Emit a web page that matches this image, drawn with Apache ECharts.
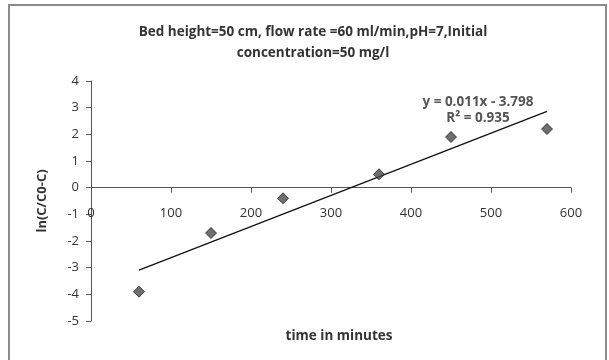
<!DOCTYPE html>
<html>
<head>
<meta charset="utf-8">
<script src="https://cdn.jsdelivr.net/npm/echarts@6/dist/echarts.min.js"></script>
<style>
  html, body { margin: 0; padding: 0; background: #fff; }
  #chart { width: 609px; height: 360px; }
</style>
</head>
<body>
<div id="chart"></div>
<script>
// data
const timeMin = [60, 150, 240, 360, 450, 570];
const lnValues = [-3.9, -1.7, -0.4, 0.5, 1.9, 2.2];
const titleLines = ['Bed height=50 cm, flow rate =60 ml/min,pH=7,Initial', 'concentration=50 mg/l'];
const eqLines = ['y = 0.011x - 3.798', 'R\u00b2 = 0.935'];
const yMin = -5, yMax = 4;

// least squares trend line over the points
function fitLine(xs, ys) {
  const n = xs.length;
  const mx = xs.reduce((a, b) => a + b, 0) / n;
  const my = ys.reduce((a, b) => a + b, 0) / n;
  let sxy = 0, sxx = 0;
  for (let i = 0; i < n; i++) {
    sxy += (xs[i] - mx) * (ys[i] - my);
    sxx += (xs[i] - mx) * (xs[i] - mx);
  }
  const k = sxy / sxx;
  return { k: k, b: my - k * mx };
}
const fit = fitLine(timeMin, lnValues);
const x0 = timeMin[0], x1 = timeMin[timeMin.length - 1];
const trend = [[x0, fit.k * x0 + fit.b], [x1, fit.k * x1 + fit.b]];

const gridTop = 81, gridBottom = 39;
const plotH = 360 - gridTop - gridBottom;
// move the x axis (with its labels) up to y = 0
const xOffset = -plotH * (0 - yMin) / (yMax - yMin);

const font = 'Open Sans, sans-serif';
const myChart = echarts.init(document.getElementById('chart'));
myChart.setOption({
  animation: false,
  backgroundColor: '#fff',
  title: [
    {
      text: titleLines.join('\n'),
      left: 308,
      top: 17,
      textAlign: 'center',
      textStyle: { fontFamily: font, fontSize: 13.5, fontWeight: 'bold', color: '#333', lineHeight: 21 },
    },
    {
      text: 'time in minutes',
      left: 334,
      top: 324,
      textAlign: 'center',
      textStyle: { fontFamily: font, fontSize: 13.5, fontWeight: 'bold', color: '#333' },
    },
  ],
  graphic: [
    {
      type: 'rect',
      z: -10,
      shape: { x: 9, y: 5, width: 597, height: 400 },
      style: { fill: 'none', stroke: '#8c8c8c', lineWidth: 2 },
    },
    {
      type: 'text',
      x: 478,
      y: 94,
      style: {
        text: eqLines.join('\n'),
        fontFamily: font,
        fontSize: 13.5,
        fontWeight: 'bold',
        fill: '#555',
        align: 'center',
        lineHeight: 16,
      },
    },
  ],
  grid: { left: 91, right: 38, top: gridTop, bottom: gridBottom },
  xAxis: {
    type: 'value',
    min: 0,
    max: 600,
    interval: 100,
    offset: xOffset,
    axisLine: { onZero: false, lineStyle: { color: '#555', width: 1 } },
    axisTick: { show: true, length: 5, lineStyle: { color: '#555' } },
    axisLabel: { margin: 19, fontFamily: font, fontSize: 13, color: '#333' },
    splitLine: { show: false },
  },
  yAxis: {
    type: 'value',
    min: yMin,
    max: yMax,
    interval: 1,
    name: 'ln(C/C0-C)',
    nameLocation: 'middle',
    nameGap: 42,
    nameTextStyle: { fontFamily: font, fontSize: 13, fontWeight: 'bold', color: '#333' },
    axisLine: { show: true, onZero: false, lineStyle: { color: '#555', width: 1 } },
    axisTick: { show: true, length: 5, lineStyle: { color: '#555' } },
    axisLabel: { margin: 12, fontFamily: font, fontSize: 13, color: '#333' },
    splitLine: { show: false },
  },
  series: [
    {
      type: 'line',
      data: trend,
      showSymbol: false,
      lineStyle: { color: '#111', width: 1.3 },
      z: 1,
    },
    {
      type: 'scatter',
      symbol: 'diamond',
      symbolSize: 11,
      itemStyle: { color: '#4a4a4a', borderColor: '#222', borderWidth: 1 },
      data: timeMin.map((t, i) => [t, lnValues[i]]),
      z: 2,
    },
  ],
});
window.onresize = function () {
  myChart.resize();
};
</script>
</body>
</html>
